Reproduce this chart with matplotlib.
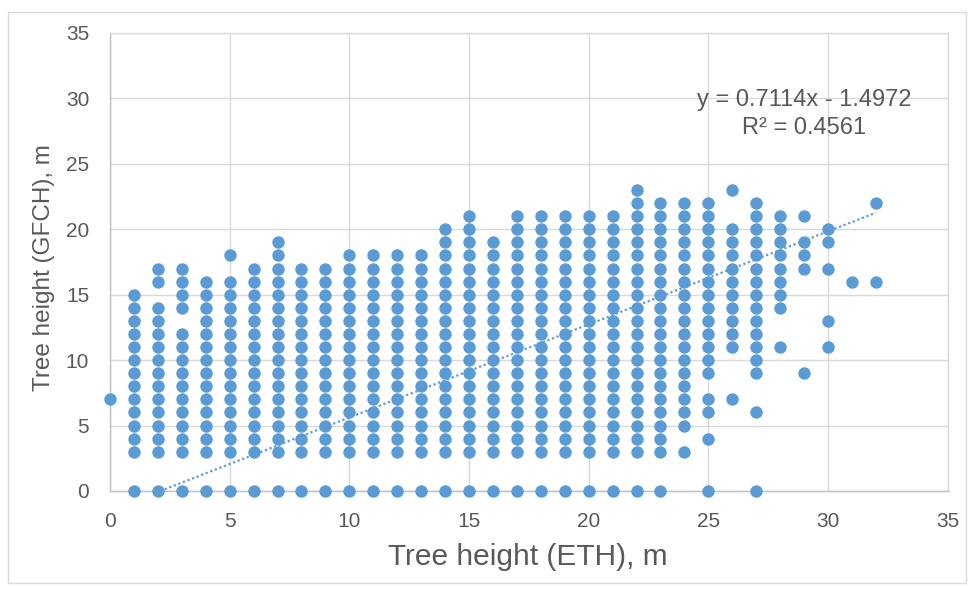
import numpy as np
import matplotlib
matplotlib.use("Agg")
import matplotlib.pyplot as plt
from matplotlib.patches import Rectangle

plt.rcParams['font.family'] = ['Liberation Sans', 'DejaVu Sans']

# ETH tree height (x, m) and the GFCH heights (y, m) observed at each
eth_heights = [0, 1, 2, 3, 4, 5, 6, 7, 8, 9, 10, 11, 12, 13, 14, 15, 16,
               17, 18, 19, 20, 21, 22, 23, 24, 25, 26, 27, 28, 29, 30, 31, 32]

gfch_at_eth = [
    [7],
    [0, 3, 4, 5, 6, 7, 8, 9, 10, 11, 12, 13, 14, 15],
    [0, 3, 4, 5, 6, 7, 8, 9, 10, 11, 12, 13, 14, 16, 17],
    [0, 3, 4, 5, 6, 7, 8, 9, 10, 11, 12, 14, 15, 16, 17],
    [0, 3, 4, 5, 6, 7, 8, 9, 10, 11, 12, 13, 14, 15, 16],
    [0, 3, 4, 5, 6, 7, 8, 9, 10, 11, 12, 13, 14, 15, 16, 18],
    [0, 3, 4, 5, 6, 7, 8, 9, 10, 11, 12, 13, 14, 15, 16, 17],
    [0, 3, 4, 5, 6, 7, 8, 9, 10, 11, 12, 13, 14, 15, 16, 17, 18, 19],
    [0, 3, 4, 5, 6, 7, 8, 9, 10, 11, 12, 13, 14, 15, 16, 17],
    [0, 3, 4, 5, 6, 7, 8, 9, 10, 11, 12, 13, 14, 15, 16, 17],
    [0, 3, 4, 5, 6, 7, 8, 9, 10, 11, 12, 13, 14, 15, 16, 17, 18],
    [0, 3, 4, 5, 6, 7, 8, 9, 10, 11, 12, 13, 14, 15, 16, 17, 18],
    [0, 3, 4, 5, 6, 7, 8, 9, 10, 11, 12, 13, 14, 15, 16, 17, 18],
    [0, 3, 4, 5, 6, 7, 8, 9, 10, 11, 12, 13, 14, 15, 16, 17, 18],
    [0, 3, 4, 5, 6, 7, 8, 9, 10, 11, 12, 13, 14, 15, 16, 17, 18, 19, 20],
    [0, 3, 4, 5, 6, 7, 8, 9, 10, 11, 12, 13, 14, 15, 16, 17, 18, 19, 20, 21],
    [0, 3, 4, 5, 6, 7, 8, 9, 10, 11, 12, 13, 14, 15, 16, 17, 18, 19],
    [0, 3, 4, 5, 6, 7, 8, 9, 10, 11, 12, 13, 14, 15, 16, 17, 18, 19, 20, 21],
    [0, 3, 4, 5, 6, 7, 8, 9, 10, 11, 12, 13, 14, 15, 16, 17, 18, 19, 20, 21],
    [0, 3, 4, 5, 6, 7, 8, 9, 10, 11, 12, 13, 14, 15, 16, 17, 18, 19, 20, 21],
    [0, 3, 4, 5, 6, 7, 8, 9, 10, 11, 12, 13, 14, 15, 16, 17, 18, 19, 20, 21],
    [0, 3, 4, 5, 6, 7, 8, 9, 10, 11, 12, 13, 14, 15, 16, 17, 18, 19, 20, 21],
    [0, 3, 4, 5, 6, 7, 8, 9, 10, 11, 12, 13, 14, 15, 16, 17, 18, 19, 20, 21, 22, 23],
    [0, 3, 4, 5, 6, 7, 8, 9, 10, 11, 12, 13, 14, 15, 16, 17, 18, 19, 20, 21, 22],
    [3, 5, 6, 7, 8, 9, 10, 11, 12, 13, 14, 15, 16, 17, 18, 19, 20, 21, 22],
    [0, 4, 6, 7, 9, 10, 11, 12, 13, 14, 15, 16, 17, 18, 19, 20, 21, 22],
    [7, 11, 12, 13, 14, 15, 16, 17, 18, 19, 20, 23],
    [0, 6, 9, 10, 11, 12, 13, 14, 15, 16, 17, 18, 19, 20, 21, 22],
    [11, 14, 15, 16, 17, 18, 19, 20, 21],
    [9, 17, 18, 19, 21],
    [11, 13, 17, 19, 20],
    [16],
    [16, 22],
]

slope = 0.7114
intercept = -1.4972
r_squared = 0.4561

axis_ticks = [0, 5, 10, 15, 20, 25, 30, 35]

W, H = 968, 589
fig = plt.figure(figsize=(W / 100, H / 100), dpi=100)
left, right, bottom, top = 110, 947.7, 491, 33
ax = fig.add_axes([left / W, 1 - bottom / H, (right - left) / W, (bottom - top) / H])

dot = '#5B9BD5'
text_c = '#595959'
grid_c = '#D9D9D9'

for xv, ys in zip(eth_heights, gfch_at_eth):
    ax.scatter([xv] * len(ys), ys, s=80, color=dot, linewidths=0,
               clip_on=False, zorder=3)

xs = np.array([0, max(eth_heights)])
ax.plot(xs, slope * xs + intercept, linestyle=(0, (1, 1.2)), color=dot,
        lw=1.6, zorder=2)

ax.set_xlim(0, 35)
ax.set_ylim(0, 35)
ax.set_xticks(axis_ticks)
ax.set_yticks(axis_ticks)
ax.grid(True, color=grid_c, lw=1.0, zorder=0)
ax.set_axisbelow(True)
for s in ax.spines.values():
    s.set_color(grid_c)
    s.set_linewidth(1.0)
ax.spines['left'].set_color('#BFBFBF')
ax.spines['bottom'].set_color('#BFBFBF')
ax.tick_params(length=0, labelsize=15, labelcolor=text_c)
ax.tick_params(axis='x', pad=15)
ax.tick_params(axis='y', pad=15)

fig.text(528 / W, 1 - 557 / H, 'Tree height (ETH), m', fontsize=21.5,
         color=text_c, ha='center', va='center')
fig.text(44 / W, 1 - 268 / H, 'Tree height (GFCH), m', fontsize=17.5,
         color=text_c, ha='center', va='center', rotation=90)

ax.text(804 / W, 1 - 114 / H,
        f'y = {slope}x - {abs(intercept)}\nR² = {r_squared}',
        transform=fig.transFigure, fontsize=17, color=text_c,
        ha='center', va='center', linespacing=1.4, zorder=5)

fig.add_artist(Rectangle((8 / W, 1 - 583 / H), (966 - 8) / W, (583 - 12) / H,
                         transform=fig.transFigure, fill=False,
                         edgecolor=grid_c, lw=1.0))

fig.savefig('out.png', dpi=100, facecolor='white')
